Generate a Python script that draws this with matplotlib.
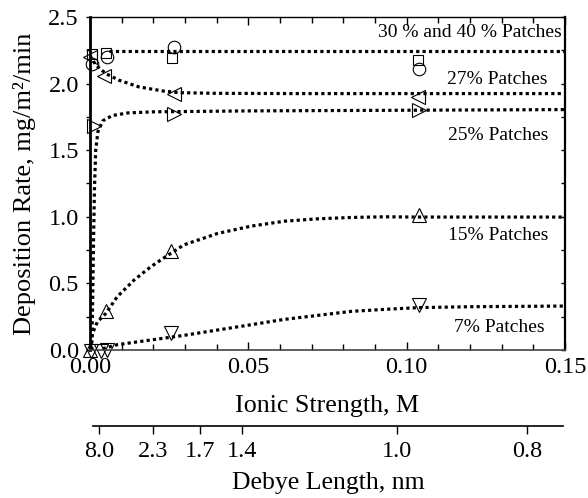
import matplotlib
matplotlib.use("Agg")
import matplotlib.pyplot as plt
from matplotlib.ticker import MultipleLocator

plt.rcParams["font.family"] = ["Liberation Serif", "DejaVu Serif"]

# measured deposition rates, mg/m2/min, against ionic strength (M)
x_40 = [0.0005, 0.0050, 0.0260, 0.1036]
y_40 = [2.225, 2.230, 2.190, 2.175]
x_30 = [0.0007, 0.0055, 0.0266, 0.1040]
y_30 = [2.150, 2.200, 2.275, 2.110]
x_27 = [0.0000, 0.0044, 0.0266, 0.1036]
y_27 = [2.200, 2.060, 1.925, 1.900]
x_25 = [0.0013, 0.0266, 0.1040]
y_25 = [1.680, 1.775, 1.800]
x_15 = [0.0000, 0.0050, 0.0257, 0.1040]
y_15 = [0.000, 0.290, 0.740, 1.010]
x_7 = [0.0002, 0.0034, 0.0055, 0.0257, 0.1040]
y_7 = [-0.010, -0.010, 0.000, 0.130, 0.340]

# fitted trend lines
fit_x_3040 = [0.006, 0.15]
fit_y_3040 = [2.248, 2.248]
fit_x_27 = [0.0000, 0.0018, 0.0050, 0.0092, 0.0155, 0.0229, 0.0280, 0.0400, 0.0660, 0.1000, 0.1500]
fit_y_27 = [2.210, 2.140, 2.075, 2.025, 1.975, 1.945, 1.932, 1.927, 1.925, 1.925, 1.925]
fit_x_25 = [0.0005, 0.0008, 0.0011, 0.0014, 0.0018, 0.0025, 0.0040, 0.0070, 0.0120, 0.0200, 0.0500, 0.1000, 0.1500]
fit_y_25 = [0.000, 0.300, 0.800, 1.200, 1.500, 1.640, 1.720, 1.760, 1.780, 1.788, 1.795, 1.800, 1.805]
fit_x_15 = [0.0002, 0.0008, 0.0023, 0.0050, 0.0086, 0.0139, 0.0192, 0.0245, 0.0297, 0.0403,
            0.0509, 0.0614, 0.0720, 0.0825, 0.0930, 0.1035, 0.1200, 0.1500]
fit_y_15 = [0.000, 0.125, 0.210, 0.275, 0.400, 0.525, 0.625, 0.710, 0.790, 0.875,
            0.930, 0.967, 0.985, 0.995, 1.000, 0.998, 0.998, 0.998]
fit_x_7 = [0.0040, 0.0086, 0.0192, 0.0297, 0.0403, 0.0509, 0.0614, 0.0720, 0.0825, 0.0930,
           0.1035, 0.1200, 0.1500]
fit_y_7 = [0.010, 0.040, 0.075, 0.110, 0.150, 0.190, 0.230, 0.260, 0.290, 0.305,
           0.318, 0.325, 0.330]

# Debye length scale under the ionic strength axis
debye_pos = [0.0025, 0.0196, 0.0345, 0.0478, 0.0968, 0.1380]
debye_labels = ["8.0", "2.3", "1.7", "1.4", "1.0", "0.8"]

labels = ["30 % and 40 % Patches", "27% Patches", "25% Patches", "15% Patches", "7% Patches"]
label_x = [0.1490, 0.1446, 0.1446, 0.1446, 0.1436]
label_y = [2.38, 2.03, 1.61, 0.86, 0.17]

fig = plt.figure(figsize=(5.88, 4.98), dpi=100)
ax = fig.add_axes([90 / 588, 148 / 498, 475 / 588, 333 / 498])

line_kw = dict(color="black", linestyle=(0, (1, 1)), linewidth=2.3, dash_capstyle="butt")
ax.plot(fit_x_3040, fit_y_3040, **line_kw)
ax.plot(fit_x_27, fit_y_27, **line_kw)
ax.plot(fit_x_25, fit_y_25, **line_kw)
ax.plot(fit_x_15, fit_y_15, **line_kw)
ax.plot(fit_x_7, fit_y_7, **line_kw)

mk = dict(linestyle="none", markerfacecolor="none", markeredgecolor="black",
          markeredgewidth=0.8, clip_on=False)
ax.plot(x_40, y_40, marker="s", markersize=7, **mk)
ax.plot(x_30, y_30, marker="o", markersize=9, **mk)
ax.plot(x_27, y_27, marker="<", markersize=10, **mk)
ax.plot(x_25, y_25, marker=">", markersize=10, **mk)
ax.plot(x_15, y_15, marker="^", markersize=10, **mk)
ax.plot(x_7, y_7, marker="v", markersize=10, **mk)

for txt, tx, ty in zip(labels, label_x, label_y):
    ax.text(tx, ty, txt, ha="right", va="center", fontsize=14)

ax.set_xlim(0, 0.15)
ax.set_ylim(0, 2.5)
ax.xaxis.set_major_locator(MultipleLocator(0.05))
ax.xaxis.set_minor_locator(MultipleLocator(0.01))
ax.yaxis.set_major_locator(MultipleLocator(0.5))
ax.yaxis.set_minor_locator(MultipleLocator(0.25))
ax.set_xticklabels([f"{v:.2f}" for v in ax.get_xticks()])
ax.set_yticklabels([f"{v:.1f}" for v in ax.get_yticks()])

ax.tick_params(axis="x", which="both", direction="in", top=True, labelsize=17.5, pad=5)
ax.tick_params(axis="x", which="major", length=6, width=1)
ax.tick_params(axis="x", which="minor", length=4, width=1)
ax.tick_params(axis="y", which="both", left=True, right=True, labelsize=17.5, pad=5)
ax.tick_params(axis="y", which="major", length=3, width=1, direction="out")
ax.tick_params(axis="y", which="minor", length=3, width=1, direction="out")
for t in ax.yaxis.get_major_ticks() + ax.yaxis.get_minor_ticks():
    t.tick2line.set_marker(matplotlib.lines.TICKLEFT)

ax.spines["left"].set_linewidth(2.0)
ax.spines["right"].set_linewidth(1.6)
ax.spines["top"].set_linewidth(1.0)
ax.spines["bottom"].set_linewidth(1.2)
ax.spines["bottom"].set_color("#444444")

ax.set_xlabel("Ionic Strength, M", fontsize=18.7, labelpad=12)
ax.set_ylabel("Deposition Rate, mg/m²/min", fontsize=19, labelpad=9)

# second scale: Debye length
ax2 = fig.add_axes([93 / 588, 72 / 498, 470 / 588, 0.001])
ax2.set_xlim(0.0006, 0.1494)
ax2.set_yticks([])
for side in ["left", "right", "top"]:
    ax2.spines[side].set_visible(False)
ax2.spines["bottom"].set_linewidth(1.2)
ax2.set_xticks(debye_pos)
ax2.set_xticklabels(debye_labels)
ax2.tick_params(axis="x", direction="out", length=6, width=1, labelsize=17.5, pad=5)
ax2.set_xlabel("Debye Length, nm", fontsize=18.5, labelpad=7)

fig.savefig("out.png", dpi=100)
